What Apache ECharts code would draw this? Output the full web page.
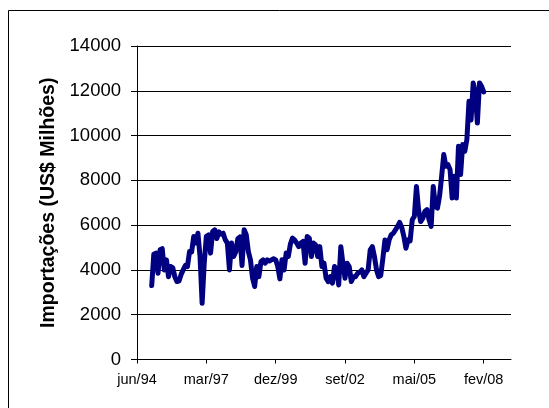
<!DOCTYPE html>
<html>
<head>
<meta charset="utf-8">
<script src="https://cdn.jsdelivr.net/npm/echarts@6/dist/echarts.min.js"></script>
<style>
  html, body { margin: 0; padding: 0; background: #fff; }
  #chart { width: 549px; height: 408px; }
</style>
</head>
<body>
<div id="chart"></div>
<script>
// Monthly imports, US$ millions, jan/95 .. fev/08
const imports = [
  3300, 4700, 4750, 3850, 4900, 4950, 4000, 4450, 3700, 4150,
  4100, 3700, 3480, 3500, 3800, 4000, 4200, 4150, 4820, 4800,
  5490, 5200, 5640, 4600, 2510, 4300, 5500, 5560, 4750, 5720,
  5790, 5400, 5700, 5600, 5640, 5350, 5200, 4000, 5200, 4600,
  4800, 5400, 5480, 4200, 5790, 5570, 4820, 4450, 3630, 3260,
  4150, 3700, 4370, 4450, 4300, 4450, 4400,
  4450, 4500, 4450, 4150, 3600, 4450, 4000, 4750, 4600, 5150,
  5420, 5340, 5200, 5040, 5200, 5270, 4300, 5490, 5420, 4600,
  5200, 5120, 4600, 5040, 4150, 4300, 3630, 3480, 3700, 3410,
  4150, 4000, 3330, 5040, 4300, 3630, 4300, 4150, 3480, 3700,
  3700, 3850, 3900, 4000, 3700, 3850, 4000, 4900, 5040, 4600,
  4000, 3700, 3750, 4500, 5340, 4900, 5340, 5570, 5640, 5790,
  5940, 6120,
  5900, 5500, 4970, 5340, 5300, 6240, 6390, 7730, 6690, 6160,
  6300, 6610, 6690, 6240, 5940, 7730, 6840, 6760, 7300, 8180,
  9150, 8630, 8700, 8480, 7210, 8180, 7210, 9520, 8260, 9600,
  9300, 9820, 11530, 10700, 12350, 11900, 10560, 12350, 12200, 11950
];

// Category axis spans jun/94 .. abr/09; the series starts 7 months in
const monthNames = ['jan', 'fev', 'mar', 'abr', 'mai', 'jun', 'jul', 'ago', 'set', 'out', 'nov', 'dez'];
const firstYear = 1994, firstMonth = 5, monthCount = 179, seriesOffset = 7;
const tickLabels = ['jun/94', 'mar/97', 'dez/99', 'set/02', 'mai/05', 'fev/08'];
const labelStep = 33;

const categories = [];
for (let i = 0; i < monthCount; i++) {
  const m = firstMonth + i;
  const y = firstYear + Math.floor(m / 12);
  categories.push(monthNames[m % 12] + '/' + String(y % 100).padStart(2, '0'));
}
const seriesData = categories.map((c, i) => {
  const k = i - seriesOffset;
  return k >= 0 && k < imports.length ? imports[k] : null;
});

const font = '"Liberation Sans", Arial, sans-serif';
const chart = echarts.init(document.getElementById('chart'), null, { renderer: 'canvas' });
chart.setOption({
  animation: false,
  backgroundColor: '#fff',
  grid: { left: 137, right: 38, top: 46, bottom: 48.5, containLabel: false },
  graphic: [{
    type: 'rect',
    shape: { x: 8.5, y: 10.5, width: 700, height: 600 },
    style: { fill: 'none', stroke: '#000', lineWidth: 1 },
    silent: true
  }],
  xAxis: {
    type: 'category',
    data: categories,
    boundaryGap: false,
    axisLine: { lineStyle: { color: '#000', width: 1 } },
    axisTick: { show: true, interval: labelStep - 1, length: 4, lineStyle: { color: '#000' } },
    axisLabel: {
      interval: labelStep - 1,
      margin: 13,
      color: '#000',
      fontFamily: font,
      fontSize: 14.5,
      formatter: (v, i) => tickLabels[i / labelStep] || ''
    },
    splitLine: { show: false }
  },
  yAxis: {
    type: 'value',
    min: 0,
    max: 14000,
    interval: 2000,
    name: 'Importações (US$ Milhões)',
    nameLocation: 'middle',
    nameRotate: 90,
    nameGap: 77,
    nameTextStyle: { color: '#000', fontFamily: font, fontSize: 19.5, fontWeight: 'bold' },
    axisLine: { show: true, lineStyle: { color: '#000', width: 1 } },
    axisTick: { show: true, length: 6, lineStyle: { color: '#000' } },
    axisLabel: {
      color: '#000', fontFamily: font, fontSize: 18.5, margin: 16,
      formatter: v => String(v)
    },
    splitLine: { show: true, lineStyle: { color: '#000', width: 1 } }
  },
  series: [{
    type: 'line',
    data: seriesData,
    showSymbol: false,
    connectNulls: false,
    lineStyle: { color: '#000080', width: 5, join: 'round', cap: 'round' },
    itemStyle: { color: '#000080' }
  }]
});
</script>
</body>
</html>
